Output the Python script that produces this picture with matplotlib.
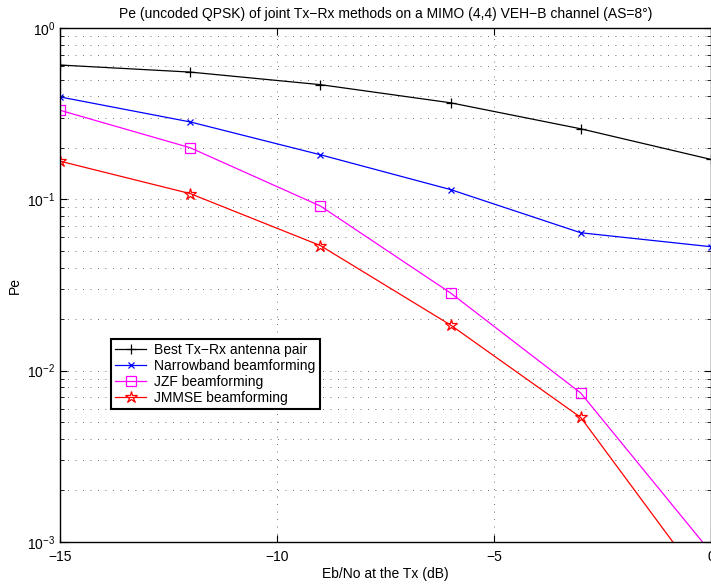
import numpy as np
import matplotlib.pyplot as plt
from matplotlib.ticker import LogLocator, NullFormatter

plt.rcParams['font.family'] = ['Liberation Sans', 'DejaVu Sans']
plt.rcParams['mathtext.default'] = 'regular'

# Eb/No values (dB) and error rates for each scheme
ebno = [-15, -12, -9, -6, -3, 0]
pe_best_pair = [0.608, 0.553, 0.467, 0.366, 0.258, 0.171]
pe_narrowband = [0.396, 0.283, 0.182, 0.114, 0.0638, 0.0529]
pe_jzf = [0.331, 0.200, 0.0914, 0.0284, 0.0074, 0.00087]
pe_jmmse = [0.167, 0.108, 0.0537, 0.01846, 0.00533, 0.0005]

labels = ['Best Tx\u2212Rx antenna pair', 'Narrowband beamforming',
          'JZF beamforming', 'JMMSE beamforming']


def plot_pe():
    fig = plt.figure(figsize=(7.11, 5.84), dpi=100)
    ax = fig.add_axes([60 / 711, 42 / 584, 651 / 711, 514 / 584])

    ax.semilogy(ebno, pe_best_pair, 'k-+', lw=0.9, ms=7, mew=0.9, label=labels[0])
    ax.semilogy(ebno, pe_narrowband, 'b-x', lw=0.9, ms=5, mew=0.9, label=labels[1])
    ax.semilogy(ebno, pe_jzf, '-s', color='magenta', lw=0.9, ms=7, mew=0.9,
                mfc='none', label=labels[2])
    ax.semilogy(ebno, pe_jmmse, 'r-*', lw=0.9, ms=9, mew=0.9, mfc='none',
                label=labels[3])

    ax.set_xlim(-15, 0)
    ax.set_ylim(1e-3, 1)
    ax.set_xticks([-15, -10, -5, 0])
    ax.yaxis.set_major_locator(LogLocator(base=10, numticks=10))
    ax.yaxis.set_minor_locator(LogLocator(base=10, subs=np.arange(2, 10), numticks=10))
    ax.yaxis.set_minor_formatter(NullFormatter())

    # sparse dotted grid
    grid_style = dict(ls=(0, (1, 8)), color='0.25', lw=0.6)
    ax.grid(True, which='major', **grid_style)
    ax.grid(True, which='minor', axis='y', **grid_style)
    ax.set_axisbelow(True)
    ax.tick_params(which='both', direction='in', top=True, right=True, labelsize=10)
    ax.tick_params(which='major', length=5)
    ax.tick_params(which='minor', length=3)
    ax.tick_params(axis='x', pad=6)
    for sp in ax.spines.values():
        sp.set_linewidth(1.0)

    ax.set_title('Pe (uncoded QPSK) of joint Tx\u2212Rx methods on a MIMO (4,4) '
                 'VEH\u2212B channel (AS=8\u00b0)', fontsize=10, pad=7)
    ax.set_xlabel('Eb/No at the Tx (dB)', fontsize=10, labelpad=2)
    ax.set_ylabel('Pe', fontsize=10, labelpad=4)

    leg = ax.legend(loc='lower left', bbox_to_anchor=(0.068, 0.245), fontsize=10,
                    fancybox=False, framealpha=1, edgecolor='k',
                    borderpad=0.3, labelspacing=0.15, handlelength=2.2,
                    handletextpad=0.6)
    leg.get_frame().set_linewidth(1.5)

    fig.savefig('out.png', dpi=100)


if __name__ == "__main__":
    plot_pe()
